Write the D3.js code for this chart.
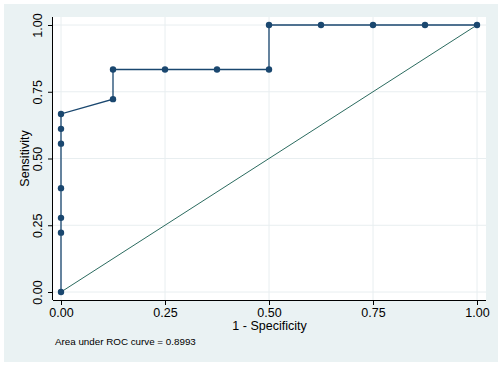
<html>
<head>
<style>
  body { margin: 0; background: #ffffff; }
  text { font-family: "Liberation Sans", Arial, sans-serif; }
</style>
</head>
<body>
<svg width="503" height="368"></svg>
<script src="https://d3js.org/d3.v7.min.js"></script>
<script>
// ROC points (1 - specificity, sensitivity)
var fpr  = [0, 0, 0, 0, 0, 0, 0, 0.125, 0.125, 0.25, 0.375, 0.5, 0.5, 0.625, 0.75, 0.875, 1];
var sens = [0, 0.2222, 0.2778, 0.3889, 0.5556, 0.6111, 0.6667, 0.7222, 0.8333, 0.8333, 0.8333, 0.8333, 1, 1, 1, 1, 1];
var ticks = [0, 0.25, 0.5, 0.75, 1];
var tickLabels = ["0.00", "0.25", "0.50", "0.75", "1.00"];
var aucNote = "Area under ROC curve = 0.8993";

var svg = d3.select("svg");

// outer graph region
svg.append("rect")
  .attr("x", 4).attr("y", 4)
  .attr("width", 494).attr("height", 358)
  .attr("fill", "#eaf2f3");

// plot region
var plot = { left: 53, top: 17, right: 486, bottom: 300 };
svg.append("rect")
  .attr("x", plot.left).attr("y", plot.top)
  .attr("width", plot.right - plot.left).attr("height", plot.bottom - plot.top)
  .attr("fill", "#ffffff");

var x = d3.scaleLinear().domain([0, 1]).range([61, 477]);
var y = d3.scaleLinear().domain([0, 1]).range([292, 25]);

// grid
svg.append("g").selectAll("line").data(ticks).enter().append("line")
  .attr("x1", d => x(d)).attr("x2", d => x(d))
  .attr("y1", plot.top).attr("y2", plot.bottom)
  .attr("stroke", "#e8eef0").attr("stroke-width", 1);
svg.append("g").selectAll("line").data(ticks).enter().append("line")
  .attr("y1", d => y(d)).attr("y2", d => y(d))
  .attr("x1", plot.left).attr("x2", plot.right)
  .attr("stroke", "#e8eef0").attr("stroke-width", 1);

// axes
var xAxis = d3.axisBottom(x).tickValues(ticks)
  .tickFormat((d, i) => tickLabels[i]).tickSize(5).tickPadding(3);
var gx = svg.append("g")
  .attr("transform", "translate(0," + plot.bottom + ")")
  .call(xAxis);
gx.select(".domain").attr("d", "M" + plot.left + ",0.5H" + plot.right)
  .attr("stroke", "#000");
gx.selectAll("text").attr("font-size", 12.5).attr("fill", "#000")
  .attr("font-family", "Liberation Sans, Arial, sans-serif");

var yAxis = d3.axisLeft(y).tickValues(ticks)
  .tickFormat((d, i) => tickLabels[i]).tickSize(5).tickPadding(3);
var gy = svg.append("g")
  .attr("transform", "translate(" + plot.left + ",0)")
  .call(yAxis);
gy.select(".domain").attr("d", "M-0.5," + plot.top + "V" + plot.bottom)
  .attr("stroke", "#000");
gy.selectAll(".tick text")
  .attr("font-size", 12.5).attr("fill", "#000")
  .attr("font-family", "Liberation Sans, Arial, sans-serif")
  .attr("text-anchor", "middle")
  .attr("x", 0).attr("dy", 0)
  .attr("transform", "translate(-11,0) rotate(-90)");

// axis titles
svg.append("text")
  .attr("x", (plot.left + plot.right) / 2).attr("y", 330)
  .attr("text-anchor", "middle").attr("font-size", 12.5)
  .text("1 - Specificity");
svg.append("text")
  .attr("transform", "translate(29," + ((plot.top + plot.bottom) / 2) + ") rotate(-90)")
  .attr("text-anchor", "middle").attr("font-size", 12.5)
  .text("Sensitivity");

// note
svg.append("text")
  .attr("x", 55).attr("y", 345)
  .attr("font-size", 9.8)
  .text(aucNote);

// reference line
svg.append("line")
  .attr("x1", x(0)).attr("y1", y(0))
  .attr("x2", x(1)).attr("y2", y(1))
  .attr("stroke", "#2b6b5f").attr("stroke-width", 1);

// ROC curve
var pts = fpr.map((f, i) => [f, sens[i]]);
svg.append("path")
  .attr("d", d3.line().x(d => x(d[0])).y(d => y(d[1]))(pts))
  .attr("fill", "none").attr("stroke", "#1a476f").attr("stroke-width", 1.3);
svg.append("g").selectAll("circle").data(pts).enter().append("circle")
  .attr("cx", d => x(d[0])).attr("cy", d => y(d[1]))
  .attr("r", 3.2).attr("fill", "#1a476f");
</script>
</body>
</html>
